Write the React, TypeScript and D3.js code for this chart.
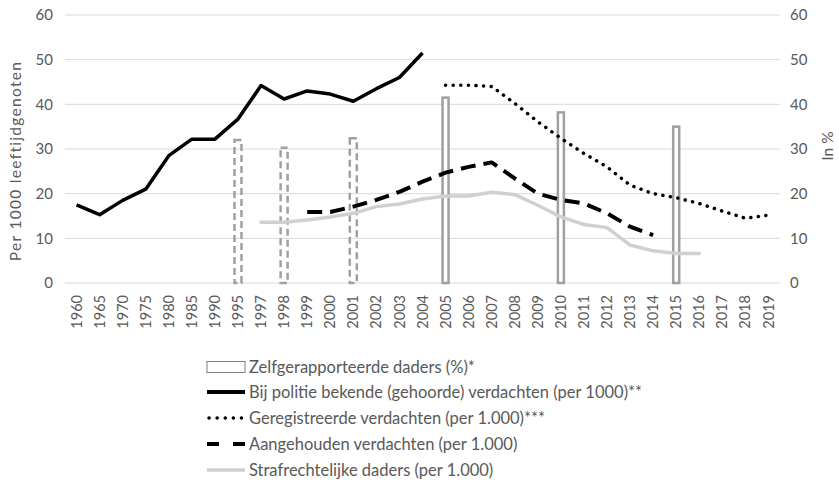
import * as d3 from "d3";

const years = [
  "1960", "1965", "1970", "1975", "1980", "1985", "1990", "1995", "1997", "1998",
  "1999", "2000", "2001", "2002", "2003", "2004", "2005", "2006", "2007", "2008",
  "2009", "2010", "2011", "2012", "2013", "2014", "2015", "2016", "2017", "2018", "2019",
];

// Zelfgerapporteerde daders (%) - right axis
const selfYearsOld = ["1995", "1998", "2001"];
const selfValuesOld = [32.0, 30.3, 32.4];
const selfYearsNew = ["2005", "2010", "2015"];
const selfValuesNew = [41.5, 38.2, 35.0];

// Bij politie bekende (gehoorde) verdachten (per 1000)
const bekendeYears = years.slice(0, 16);
const bekendeValues = [17.5, 15.3, 18.5, 21.0, 28.5, 32.2, 32.2, 36.7, 44.2, 41.2, 43.0, 42.3, 40.7, 43.5, 46.0, 51.5];

// Geregistreerde verdachten (per 1.000)
const geregYears = years.slice(16);
const geregValues = [44.3, 44.3, 44.0, 40.2, 36.1, 32.4, 29.0, 26.0, 21.9, 20.0, 19.1, 17.8, 16.1, 14.5, 15.2];

// Aangehouden verdachten (per 1.000)
const aangYears = years.slice(10, 26);
const aangValues = [15.9, 15.9, 17.1, 18.6, 20.4, 22.7, 24.7, 26.0, 27.0, 23.4, 20.0, 18.6, 17.8, 15.6, 12.6, 10.7];

// Strafrechtelijke daders (per 1.000)
const strafYears = years.slice(8, 28);
const strafValues = [13.6, 13.6, 14.1, 14.8, 15.6, 17.1, 17.7, 18.8, 19.5, 19.5, 20.3, 19.8, 17.4, 14.8, 13.1, 12.4, 8.5, 7.2, 6.6, 6.6];

const yTicks = [0, 10, 20, 30, 40, 50, 60];

const legendLabels = [
  "Zelfgerapporteerde daders (%)*",
  "Bij politie bekende (gehoorde) verdachten (per 1000)**",
  "Geregistreerde verdachten (per 1.000)***",
  "Aangehouden verdachten (per 1.000)",
  "Strafrechtelijke daders (per 1.000)",
];

const W = 839;
const H = 485;
const left = 65;
const right = 780;
const top = 15;
const bottom = 283;
const font = "Lato, 'Open Sans', sans-serif";
const txt = "#595959";

export default function App() {
  const x = d3.scaleBand<string>().domain(years).range([left, right]);
  const y = d3.scaleLinear().domain([0, 60]).range([bottom, top]);
  const cx = (yr: string) => (x(yr) ?? 0) + x.bandwidth() / 2;

  const line = (ys: string[], vs: number[]) =>
    d3
      .line<number>()
      .x((_, i) => cx(ys[i]))
      .y((d) => y(d))(vs) ?? "";

  const barW = 6;

  const legendY = [367, 392, 418, 444, 470];
  const lx0 = 207;
  const lx1 = 245;

  return (
    <svg width={W} height={H} style={{ position: "absolute", left: 0, top: 0, background: "#fff" }} fontFamily={font}>
      {yTicks.map((t) => (
        <g key={t}>
          <line x1={left} x2={right} y1={y(t)} y2={y(t)} stroke="#d9d9d9" strokeWidth={1} />
          <text x={53} y={y(t)} dy="0.35em" textAnchor="end" fontSize={15} fill={txt}>
            {t}
          </text>
          <text x={790} y={y(t)} dy="0.35em" textAnchor="start" fontSize={15} fill={txt}>
            {t}
          </text>
        </g>
      ))}
      {years.map((yr) => (
        <text
          key={yr}
          transform={`translate(${cx(yr)},295) rotate(-90)`}
          dy="0.35em"
          textAnchor="end"
          fontSize={14.5}
          fill={txt}
        >
          {yr}
        </text>
      ))}
      <text transform="translate(16,161) rotate(-90)" dy="0.35em" textAnchor="middle" fontSize={15.5} fill={txt} letterSpacing={1.3}>
        Per 1000 leeftijdgenoten
      </text>
      <text transform="translate(828,146) rotate(-90)" dy="0.35em" textAnchor="middle" fontSize={15.5} fill={txt}>
        In %
      </text>

      {selfYearsOld.map((yr, i) => (
        <rect
          key={yr}
          x={cx(yr) - barW / 2 - 0.5}
          y={y(selfValuesOld[i])}
          width={barW + 1}
          height={bottom - y(selfValuesOld[i])}
          fill="none"
          stroke="#a0a0a0"
          strokeWidth={2.5}
          strokeDasharray="7 4"
        />
      ))}
      {selfYearsNew.map((yr, i) => (
        <rect
          key={yr}
          x={cx(yr) - barW / 2}
          y={y(selfValuesNew[i])}
          width={barW}
          height={bottom - y(selfValuesNew[i])}
          fill="#fff"
          stroke="#a0a0a0"
          strokeWidth={2.5}
        />
      ))}

      <path d={line(strafYears, strafValues)} fill="none" stroke="#d0d0d0" strokeWidth={3.5} strokeLinejoin="round" strokeLinecap="round" />
      <path d={line(aangYears, aangValues)} fill="none" stroke="#000" strokeWidth={4} strokeDasharray="15 8" strokeLinejoin="round" />
      <path d={line(geregYears, geregValues)} fill="none" stroke="#000" strokeWidth={3.5} strokeDasharray="0.1 7.5" strokeLinecap="round" />
      <path d={line(bekendeYears, bekendeValues)} fill="none" stroke="#000" strokeWidth={3.5} strokeLinejoin="round" />

      <g>
        <rect x={lx0} y={legendY[0] - 5.5} width={lx1 - lx0} height={11} fill="#fff" stroke="#7f7f7f" strokeWidth={1} />
        <line x1={lx0} x2={lx1} y1={legendY[1]} y2={legendY[1]} stroke="#000" strokeWidth={4} />
        <line x1={lx0 + 2} x2={lx1} y1={legendY[2]} y2={legendY[2]} stroke="#000" strokeWidth={3.5} strokeDasharray="0.1 8" strokeLinecap="round" />
        <line x1={lx0} x2={lx1} y1={legendY[3]} y2={legendY[3]} stroke="#000" strokeWidth={4} strokeDasharray="12 14" />
        <line x1={lx0} x2={lx1} y1={legendY[4]} y2={legendY[4]} stroke="#d0d0d0" strokeWidth={3.5} />
        {legendLabels.map((l, i) => (
          <text key={l} x={249} y={legendY[i]} dy="0.35em" fontSize={16.5} fill={txt}>
            {l}
          </text>
        ))}
      </g>
    </svg>
  );
}
